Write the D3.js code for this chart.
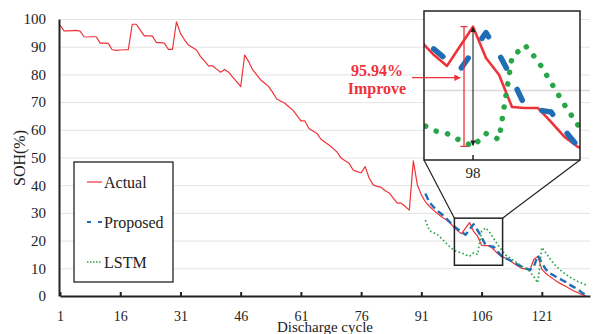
<!DOCTYPE html>
<html>
<head>
<meta charset="utf-8">
<script src="https://cdn.jsdelivr.net/npm/d3@7"></script>
<style>
  body { margin: 0; background: #fff; }
  svg { display: block; font-family: "Liberation Serif", "Times New Roman", serif; }
</style>
</head>
<body>
<div id="chart"></div>
<script>
// SOH per discharge cycle
var actual = [
  97.8, 95.7, 95.7, 95.8, 95.9, 95.6, 93.6, 93.5, 93.6, 93.6,
  91.3, 91.3, 91.2, 88.9, 88.7, 88.8, 88.9, 88.9, 98.1, 98.1,
  96.0, 93.9, 93.9, 93.8, 91.5, 91.5, 91.3, 89.0, 89.0, 99.0,
  94.8, 92.5, 90.6, 89.7, 88.8, 86.4, 84.8, 83.1, 83.1, 81.9,
  80.8, 81.8, 80.8, 79.0, 77.4, 75.6, 87.0, 84.6, 81.6, 79.8,
  78.0, 76.8, 75.6, 73.4, 71.1, 70.3, 69.6, 68.3, 67.1, 65.2,
  63.2, 63.2, 60.5, 59.6, 58.7, 56.6, 55.5, 54.5, 53.3, 52.0,
  49.8, 48.8, 47.9, 45.5, 44.9, 44.5, 46.7, 42.5, 40.1, 39.6,
  39.2, 38.0, 37.2, 35.3, 33.5, 33.5, 32.3, 31.0, 48.8, 40.1,
  36.5, 34.0, 32.4, 31.0, 29.8, 28.6, 27.7, 26.6, 25.0, 23.6,
  22.5, 24.5, 26.5, 23.3, 21.6, 18.3, 18.2, 18.2, 16.8, 15.3,
  14.3, 13.6, 12.8, 11.8, 10.8, 10.0, 9.8, 9.3, 13.2, 14.3,
  9.6, 8.2, 7.0, 6.0, 5.0, 4.2, 3.4, 2.6, 1.8, 1.2,
  0.5, 0
];
var predStart = 92; // first predicted cycle
var proposed = [
  37.0, 33.8, 32.2, 30.8, 29.6, 28.3, 26.8, 25.3, 24.2, 23.1,
  22.1, 24.0, 25.9, 23.7, 21.2, 18.4, 18.0, 17.8, 16.0, 14.4,
  13.6, 13.0, 12.2, 11.3, 10.6, 10.0, 9.4, 10.5, 14.6, 12.0,
  9.6, 8.2, 7.4, 6.6, 5.8, 5.0, 4.0, 3.2, 2.4, 1.2,
  0.4
];
var lstm = [
  27.4, 23.6, 22.9, 22.2, 20.8, 19.3, 17.9, 16.6, 15.9, 15.6,
  14.9, 14.3, 15.6, 15.0, 23.4, 24.6, 23.0, 20.8, 18.6, 16.6,
  14.8, 13.8, 12.8, 11.8, 10.8, 9.9, 8.9, 7.0, 4.8, 17.5,
  15.6, 13.5, 11.6, 10.2, 8.9, 7.8, 6.8, 6.0, 5.2, 4.6,
  4.0
];
var xTicks = [1, 16, 31, 46, 61, 76, 91, 106, 121];
var yTicks = [0, 10, 20, 30, 40, 50, 60, 70, 80, 90, 100];
var seriesNames = ["Actual", "Proposed", "LSTM"];
var markCycle = 103;          // cycle marked in the zoom view
var markLabel = "98";
var improveText = ["95.94%", "Improve"];

var W = 599, H = 334;
var red = "#ee3338", blue = "#1f6db5", green = "#2aa54a", ink = "#222";

var svg = d3.select("#chart").append("svg")
  .attr("width", W).attr("height", H);

var x = d3.scaleLinear().domain([1, 133]).range([60, 590]);
var y = d3.scaleLinear().domain([0, 100]).range([296, 19]);

function toPts(arr, start) {
  return arr.map(function(v, i) { return {c: start + i, v: v}; });
}
var series = [
  {name: seriesNames[0], pts: toPts(actual, 1), color: red,
    main: {w: 1.2, dash: null}, inset: {w: 2.6, dash: null, cap: "butt"},
    key: {w: 1.2, dash: null}},
  {name: seriesNames[1], pts: toPts(proposed, predStart), color: blue,
    main: {w: 2.4, dash: "7,4"}, inset: {w: 5.5, dash: "12,24", cap: "round"},
    key: {w: 2, dash: "4,7"}},
  {name: seriesNames[2], pts: toPts(lstm, predStart), color: green,
    main: {w: 1.7, dash: "1.6,2.4"}, inset: {w: 5.5, dash: "0.1,11.6", cap: "round"},
    key: {w: 1.5, dash: "1.5,1.5"}}
];

// grid
svg.append("g")
  .attr("transform", "translate(60,0)")
  .call(d3.axisLeft(y).tickValues(yTicks.filter(function(d) { return d > 0; }))
    .tickSize(-530).tickFormat(""))
  .call(function(g) {
    g.select(".domain").remove();
    g.selectAll("line").attr("stroke", "#e4e4e4").attr("stroke-width", 1);
  });

// lines
var line = d3.line()
  .x(function(d) { return x(d.c); })
  .y(function(d) { return y(d.v); });
series.forEach(function(s) {
  svg.append("path").datum(s.pts)
    .attr("d", line)
    .attr("fill", "none")
    .attr("stroke", s.color)
    .attr("stroke-width", s.main.w)
    .attr("stroke-dasharray", s.main.dash)
    .attr("stroke-linejoin", "round");
});

// axes
var gx = svg.append("g")
  .attr("transform", "translate(0,296)")
  .call(d3.axisBottom(x).tickValues(xTicks).tickSizeInner(-4).tickSizeOuter(0).tickPadding(15));
var gy = svg.append("g")
  .attr("transform", "translate(59,0)")
  .call(d3.axisLeft(y).tickValues(yTicks).tickSize(0).tickPadding(13));
[gx, gy].forEach(function(g) {
  g.attr("font-family", null);
  g.select(".domain").attr("stroke", ink).attr("stroke-width", 2);
  g.selectAll(".tick line").attr("stroke", ink).attr("stroke-width", 2);
  g.selectAll(".tick text").attr("fill", ink);
});
gx.attr("font-size", 14);
gy.attr("font-size", 15);

svg.append("text")
  .attr("x", 325).attr("y", 332)
  .attr("text-anchor", "middle")
  .attr("font-size", 15).attr("fill", ink)
  .text("Discharge cycle");
svg.append("text")
  .attr("transform", "translate(19,158) rotate(-90)")
  .attr("text-anchor", "middle")
  .attr("dy", "0.35em")
  .attr("font-size", 16).attr("fill", ink)
  .text("SOH(%)");

// legend
var leg = svg.append("g");
leg.append("rect")
  .attr("x", 74).attr("y", 162).attr("width", 99).attr("height", 120)
  .attr("fill", "#fff").attr("stroke", ink).attr("stroke-width", 1.3);
series.forEach(function(s, i) {
  var ly = 182 + i * 40;
  leg.append("line")
    .attr("x1", 87).attr("x2", 102).attr("y1", ly).attr("y2", ly)
    .attr("stroke", s.color).attr("stroke-width", s.key.w)
    .attr("stroke-dasharray", s.key.dash);
  leg.append("text")
    .attr("x", 104).attr("y", ly).attr("dy", "0.35em")
    .attr("font-size", 16).attr("fill", ink)
    .text(s.name);
});

// zoomed region
var zx = [99.23, 111.23], zy = [11.1, 28.1];
var box = {x: 424, y: 11, w: 156, h: 149};
var ix = d3.scaleLinear().domain(zx).range([box.x, box.x + box.w]);
var iy = d3.scaleLinear().domain([12.9, 28.1]).range([box.y + box.h, box.y]);

svg.append("rect")
  .attr("x", x(zx[0])).attr("y", y(zy[1]))
  .attr("width", x(zx[1]) - x(zx[0])).attr("height", y(zy[0]) - y(zy[1]))
  .attr("fill", "none").attr("stroke", ink).attr("stroke-width", 1.5);
svg.append("line")
  .attr("x1", x(zx[0])).attr("y1", y(zy[1])).attr("x2", box.x).attr("y2", box.y + box.h)
  .attr("stroke", ink).attr("stroke-width", 1.2);
svg.append("line")
  .attr("x1", x(zx[1])).attr("y1", y(zy[1])).attr("x2", box.x + box.w).attr("y2", box.y + box.h)
  .attr("stroke", ink).attr("stroke-width", 1.2);

svg.append("defs").append("clipPath").attr("id", "insetClip")
  .append("rect").attr("x", box.x).attr("y", box.y).attr("width", box.w).attr("height", box.h);

svg.append("rect")
  .attr("x", box.x).attr("y", box.y).attr("width", box.w).attr("height", box.h)
  .attr("fill", "#fff");
svg.append("line")
  .attr("x1", box.x).attr("x2", 590).attr("y1", iy(20)).attr("y2", iy(20))
  .attr("stroke", "#d9d9d9").attr("stroke-width", 1.5);

var iline = d3.line()
  .x(function(d) { return ix(d.c); })
  .y(function(d) { return iy(d.v); });
var gi = svg.append("g").attr("clip-path", "url(#insetClip)");
series.forEach(function(s) {
  gi.append("path").datum(s.pts.filter(function(d) { return d.c >= zx[0] - 2 && d.c <= zx[1] + 2; }))
    .attr("d", iline)
    .attr("fill", "none")
    .attr("stroke", s.color)
    .attr("stroke-width", s.inset.w)
    .attr("stroke-dasharray", s.inset.dash)
    .attr("stroke-linecap", s.inset.cap)
    .attr("stroke-linejoin", "round");
});

svg.append("rect")
  .attr("x", box.x).attr("y", box.y).attr("width", box.w).attr("height", box.h)
  .attr("fill", "none").attr("stroke", ink).attr("stroke-width", 1.5);

var mx = ix(markCycle);
svg.append("line")
  .attr("x1", mx).attr("x2", mx).attr("y1", box.y + box.h - 5).attr("y2", box.y + box.h)
  .attr("stroke", ink).attr("stroke-width", 1.5);
svg.append("text")
  .attr("x", mx).attr("y", 178)
  .attr("text-anchor", "middle")
  .attr("font-size", 15).attr("fill", ink)
  .text(markLabel);

// improvement marks
var defs = svg.select("defs");
defs.append("marker").attr("id", "arrK")
  .attr("viewBox", "0 0 8 8").attr("refX", 7).attr("refY", 4)
  .attr("markerWidth", 5).attr("markerHeight", 5).attr("orient", "auto-start-reverse")
  .append("path").attr("d", "M0,0 L8,4 L0,8 z").attr("fill", ink);
defs.append("marker").attr("id", "arrR")
  .attr("viewBox", "0 0 8 8").attr("refX", 7).attr("refY", 4)
  .attr("markerWidth", 5).attr("markerHeight", 5).attr("orient", "auto")
  .append("path").attr("d", "M0,0 L8,4 L0,8 z").attr("fill", red);

var topV = actual[markCycle - 1], lowV = lstm[markCycle - predStart];
var y1 = iy(topV), y2 = iy(lowV);
var bx = mx - 9;
svg.append("path")
  .attr("d", "M" + (bx - 3.5) + "," + y1 + "H" + (bx + 3.5) +
    "M" + bx + "," + y1 + "V" + y2 +
    "M" + (bx - 3.5) + "," + y2 + "H" + (bx + 3.5))
  .attr("fill", "none").attr("stroke", red).attr("stroke-width", 1.3);
svg.append("line")
  .attr("x1", mx).attr("x2", mx).attr("y1", y1 + 1).attr("y2", y2 - 1)
  .attr("stroke", ink).attr("stroke-width", 1.1)
  .attr("marker-start", "url(#arrK)").attr("marker-end", "url(#arrK)");

svg.append("line")
  .attr("x1", 412).attr("x2", bx - 4).attr("y1", 77.7).attr("y2", 77.7)
  .attr("stroke", red).attr("stroke-width", 1.3)
  .attr("marker-end", "url(#arrR)");
improveText.forEach(function(t, i) {
  svg.append("text")
    .attr("x", 377).attr("y", 76 + i * 18)
    .attr("text-anchor", "middle")
    .attr("font-size", 16).attr("font-weight", "bold")
    .attr("fill", red)
    .text(t);
});
</script>
</body>
</html>
